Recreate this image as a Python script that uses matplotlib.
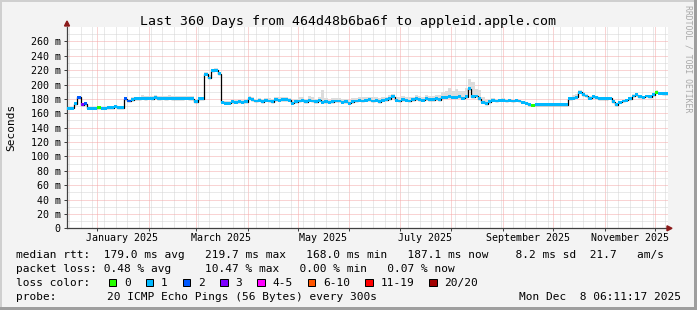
"""SmokePing-style latency chart: last 360 days, 464d48b6ba6f -> appleid.apple.com."""
import numpy as np
import matplotlib
matplotlib.use("Agg")
import matplotlib.pyplot as plt
from matplotlib.patches import Rectangle, Polygon

plt.rcParams["font.family"] = ["DejaVu Sans Mono"]

# ---- data (days since 2025-01-01, one sample per 2 days) ----
days = np.arange(-18, 341, 2)
median_ms = [
    167, 167, 173, 182, 172, 173, 167, 167, 167, 168,
    167, 167, 168, 168, 170, 168, 168, 180, 177, 179,
    180, 180, 181, 180, 181, 180, 182, 180, 181, 180,
    181, 180, 180, 180, 180, 181, 180, 180, 176, 180,
    180, 214, 209, 219, 220, 215, 175, 174, 174, 176,
    175, 176, 175, 176, 181, 179, 177, 178, 176, 178,
    177, 176, 179, 178, 179, 179, 178, 174, 176, 177,
    178, 176, 178, 177, 176, 178, 175, 176, 175, 176,
    177, 177, 175, 176, 174, 176, 177, 178, 177, 178,
    179, 177, 178, 176, 178, 179, 180, 183, 178, 177,
    179, 178, 177, 179, 180, 179, 178, 180, 179, 179,
    180, 179, 182, 182, 183, 182, 182, 183, 181, 183,
    194, 183, 184, 180, 175, 173, 176, 178, 177, 178,
    178, 177, 178, 177, 178, 177, 175, 174, 172, 171,
    172, 172, 172, 172, 172, 172, 172, 172, 172, 172,
    180, 181, 182, 189, 186, 184, 181, 183, 182, 180,
    180, 180, 181, 176, 172, 175, 177, 178, 180, 184,
    186, 183, 182, 184, 183, 186, 189, 188, 187, 187,
]
# spread of the ping "smoke" above the median (ms)
smoke_ms = [
    1, 1, 2, 2, 2, 1, 1, 1, 1, 1,
    1, 1, 1, 1, 1, 1, 1, 2, 3, 3,
    3, 3, 4, 4, 3, 4, 3, 4, 3, 4,
    4, 4, 4, 4, 4, 3, 4, 4, 4, 3,
    3, 4, 4, 3, 3, 3, 2, 3, 3, 3,
    3, 3, 4, 3, 3, 3, 3, 3, 4, 3,
    4, 4, 4, 5, 4, 4, 3, 4, 4, 5,
    4, 4, 6, 5, 4, 5, 18, 5, 4, 5,
    4, 4, 5, 4, 5, 5, 4, 4, 5, 4,
    4, 5, 4, 5, 5, 4, 5, 4, 5, 5,
    5, 5, 5, 4, 5, 5, 5, 6, 5, 5,
    5, 6, 7, 9, 12, 9, 12, 8, 10, 12,
    14, 20, 10, 12, 8, 6, 4, 3, 3, 2,
    3, 3, 2, 2, 2, 2, 2, 2, 1, 1,
    1, 1, 1, 1, 1, 1, 1, 1, 1, 1,
    3, 4, 5, 4, 4, 3, 3, 3, 2, 2,
    2, 2, 2, 2, 2, 2, 2, 2, 2, 3,
    2, 2, 2, 2, 2, 2, 3, 2, 2, 2,
]
loss_default = 1
loss_exceptions = {-12: 2, -10: 3, -8: 2, 0: 0, 16: 2, 18: 2, 260: 0, 334: 0}

loss_labels = ["0", "1", "2", "3", "4-5", "6-10", "11-19", "20/20"]
loss_colors = ["#26ff00", "#00b8ff", "#0059ff", "#7e00ff",
               "#ff00ff", "#ff5500", "#ff0000", "#a10000"]

month_starts = [0, 31, 59, 90, 120, 151, 181, 212, 243, 273, 304, 334]
week_lines = np.arange(-17, 342, 7)          # Sundays
label_pos = [15, 74, 135, 196, 258, 319]
label_txt = ["January 2025", "March 2025", "May 2025",
             "July 2025", "September 2025", "November 2025"]

legend_lines = [
    "median rtt:  179.0 ms avg   219.7 ms max   168.0 ms min   187.1 ms now    8.2 ms sd  21.7   am/s",
    "packet loss: 0.48 % avg     10.47 % max   0.00 % min   0.07 % now",
]
probe_txt = "20 ICMP Echo Pings (56 Bytes) every 300s"
stamp_txt = "Mon Dec  8 06:11:17 2025"
title = "Last 360 Days from 464d48b6ba6f to appleid.apple.com"

# ---- figure ----
W, H = 697, 310
fig = plt.figure(figsize=(W / 100, H / 100), dpi=100)
fig.patch.set_facecolor("#f3f3f3")

def fx(x):
    return x / W

def fy(y):
    return 1 - y / H

ax_l, ax_r, ax_t, ax_b = 67, 668, 27, 228.3
ax = fig.add_axes([fx(ax_l), fy(ax_b), (ax_r - ax_l) / W, (ax_b - ax_t) / H])
ax.set_facecolor("white")
ax.set_xlim(-18.2, 341.8)
ax.set_ylim(0, 280)

med = np.array(median_ms, float)
edges = np.append(days, days[-1] + 2)
ax.stairs(med + np.array(smoke_ms), edges, baseline=med - 1, fill=True,
          color="#dcdcdc", lw=0, zorder=2)
ax.stairs(med, edges, baseline=None, color="black", lw=0.9, zorder=3)
cls = [loss_exceptions.get(int(d), loss_default) for d in days]
ax.bar(days, 4, width=2, bottom=med - 2, align="edge",
       color=[loss_colors[c] for c in cls], lw=0, zorder=4)

# grid
dot = (0, (1, 1))
ax.set_xticks(month_starts)
ax.set_xticklabels([])
ax.set_xticks(week_lines, minor=True)
ax.set_yticks(np.arange(0, 261, 20))
ax.set_yticklabels(["0"] + [f"{v} m" for v in range(20, 261, 20)])
ax.set_yticks(np.arange(10, 280, 20), minor=True)
ax.grid(which="minor", color="#d4d4d4", ls=dot, lw=0.72)
ax.grid(which="major", color="#f4a8a8", ls=dot, lw=0.72)
ax.set_axisbelow(True)
ax.tick_params(axis="both", which="minor", length=0)
ax.tick_params(axis="y", which="major", length=2, width=0.72, pad=2.5,
               labelsize=7.2, color="#404040")
ax.tick_params(axis="x", which="major", length=2, width=0.72, color="#404040")
for s in ("top", "right"):
    ax.spines[s].set_visible(False)
for s in ("left", "bottom"):
    ax.spines[s].set_color("#404040")
    ax.spines[s].set_linewidth(0.9)

for p, t in zip(label_pos, label_txt):
    ax.text(p, (ax_b - 241) / (ax_b - ax_t), t, transform=ax.get_xaxis_transform(),
            ha="center", va="baseline", fontsize=7.2)

# axis arrows
arrow_c = "#8b1a1a"
fig.add_artist(Polygon([(fx(64.5), fy(26)), (fx(69.5), fy(26)), (fx(67), fy(21))],
                       closed=True, color=arrow_c, transform=fig.transFigure))
fig.add_artist(Polygon([(fx(667), fy(225.8)), (fx(667), fy(230.8)), (fx(672), fy(228.3))],
                       closed=True, color=arrow_c, transform=fig.transFigure))

# texts
fig.text(fx(348.5), fy(24.5), title, ha="center", va="baseline", fontsize=9.5)
fig.text(fx(11), fy(127.5), "Seconds", rotation=90, ha="center", va="center", fontsize=8)
fig.text(fx(688), fy(59), "RRDTOOL / TOBI OETIKER", rotation=270, ha="center",
         va="center", fontsize=5.9, color="#a8a8a8")

base = [258.3, 272.3, 286.3, 300.3]
for y, line in zip(base, legend_lines):
    fig.text(fx(16), fy(y), line, ha="left", va="baseline", fontsize=8)
fig.text(fx(16), fy(base[2]), "loss color:", ha="left", va="baseline", fontsize=8)
x = 108.5
for lab, col in zip(loss_labels, loss_colors):
    fig.add_artist(Rectangle((fx(x), fy(286)), 7.5 / W, 7.5 / H, facecolor=col,
                             edgecolor="black", lw=0.72, transform=fig.transFigure))
    fig.text(fx(x + 15.5), fy(base[2]), lab, ha="left", va="baseline", fontsize=8)
    x += 15.5 + len(lab) * 6.69 + 15
fig.text(fx(16), fy(base[3]), "probe:", ha="left", va="baseline", fontsize=8)
fig.text(fx(107.3), fy(base[3]), probe_txt, ha="left", va="baseline", fontsize=8)
fig.text(fx(681), fy(base[3]), stamp_txt, ha="right", va="baseline", fontsize=8)

# 3D-ish frame
light, dark = "#cfcfcf", "#9e9e9e"
for (x0, y0, w, h, c) in [(0, 0, W, 2, light), (0, 0, 2, H, light),
                          (0, H - 3, W, 3, dark), (W - 3, 0, 3, H, dark)]:
    fig.add_artist(Rectangle((fx(x0), fy(y0 + h)), w / W, h / H, color=c,
                             lw=0, transform=fig.transFigure))

fig.savefig("out.png", dpi=100, facecolor=fig.get_facecolor())
